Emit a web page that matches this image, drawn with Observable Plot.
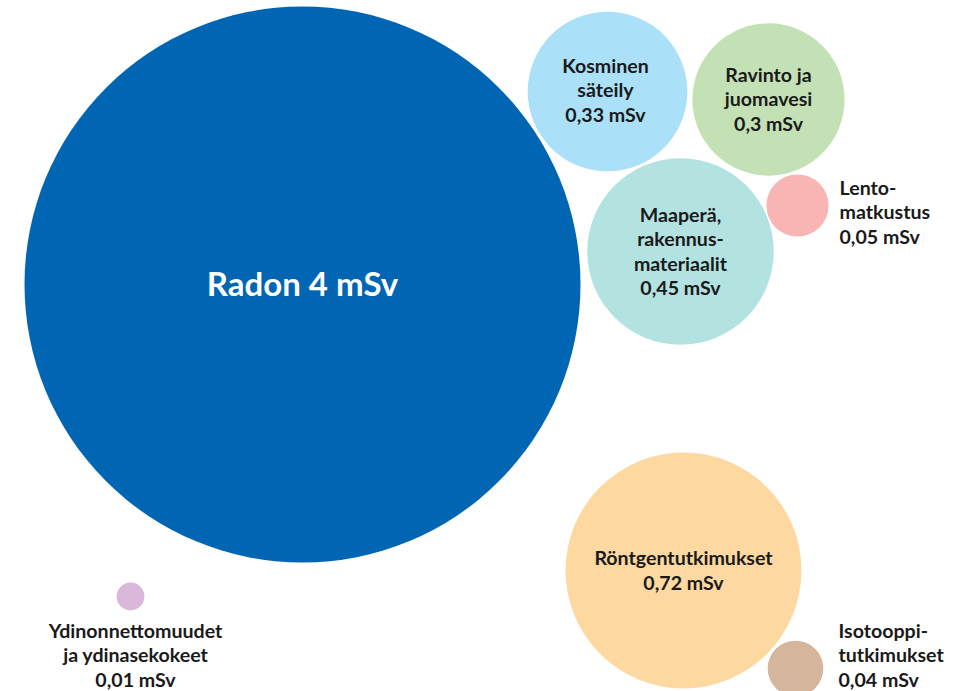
<!DOCTYPE html>
<html>
<head>
<meta charset="utf-8">
<script src="https://cdn.jsdelivr.net/npm/d3@7"></script>
<script src="https://cdn.jsdelivr.net/npm/@observablehq/plot@0.6"></script>
<style>
  html, body { margin: 0; padding: 0; background: #fff; }
  #chart svg { display: block; }
</style>
</head>
<body>
<div id="chart"></div>
<script>
// Data
const categories = ["Radon", "Kosminen säteily", "Ravinto ja juomavesi", "Maaperä, rakennusmateriaalit",
  "Lentomatkustus", "Röntgentutkimukset", "Isotooppitutkimukset", "Ydinonnettomuudet ja ydinasekokeet"];
const values = [4, 0.33, 0.3, 0.45, 0.05, 0.72, 0.04, 0.01];
const labels = [
  "Radon 4 mSv",
  "Kosminen\nsäteily\n0,33 mSv",
  "Ravinto ja\njuomavesi\n0,3 mSv",
  "Maaperä,\nrakennus-\nmateriaalit\n0,45 mSv",
  "Lento-\nmatkustus\n0,05 mSv",
  "Röntgentutkimukset\n0,72 mSv",
  "Isotooppi-\ntutkimukset\n0,04 mSv",
  "Ydinonnettomuudet\nja ydinasekokeet\n0,01 mSv"
];
const colors = ["#0066b3", "#aae0f8", "#c3e1b5", "#b3e3e1", "#f8b5b4", "#fdd8a1", "#d5b59b", "#d9b8d9"];

// Layout (bubble centres and label anchors, in chart units)
const cx = [302, 607, 768, 680, 797, 683, 795, 130];
const cy = [284, 91, 99, 251, 205, 570, 668, 596];
const labelX = [302, 605, 768, 680, 839, 683, 838, 135];
const labelY = [285, 89, 98, 250, 211, 569, 654, 654];
const labelAnchor = ["middle", "middle", "middle", "middle", "start", "middle", "start", "middle"];

const rows = categories.map((c, i) => ({
  category: c, value: values[i], label: labels[i], color: colors[i],
  cx: cx[i], cy: cy[i], lx: labelX[i], ly: labelY[i], anchor: labelAnchor[i]
}));

const big = rows.filter(d => d.category === "Radon");
const small = rows.filter(d => d.category !== "Radon");

const chart = Plot.plot({
  width: 956,
  height: 691,
  margin: 0,
  x: {domain: [0, 956], range: [0, 956], axis: null},
  y: {domain: [0, 691], range: [0, 691], axis: null},
  r: {type: "sqrt", domain: [0, 4], range: [0, 278]},
  style: {fontFamily: "Lato, 'Noto Sans', sans-serif"},
  marks: [
    Plot.dot(rows, {x: "cx", y: "cy", r: "value", fill: d => d.color, stroke: "none", fillOpacity: 1}),
    Plot.text(big, {x: "lx", y: "ly", text: "label", fill: "#ffffff", fontSize: 33, fontWeight: 700,
      textAnchor: "middle", lineAnchor: "middle"}),
    ...["middle", "start"].map(a => Plot.text(small.filter(d => d.anchor === a), {
      x: "lx", y: "ly", text: "label", fill: "#1a1a1a", fontSize: 19.6, fontWeight: 700,
      lineHeight: 1.25, textAnchor: a, lineAnchor: "middle"
    }))
  ]
});
document.getElementById("chart").appendChild(chart);
</script>
</body>
</html>
